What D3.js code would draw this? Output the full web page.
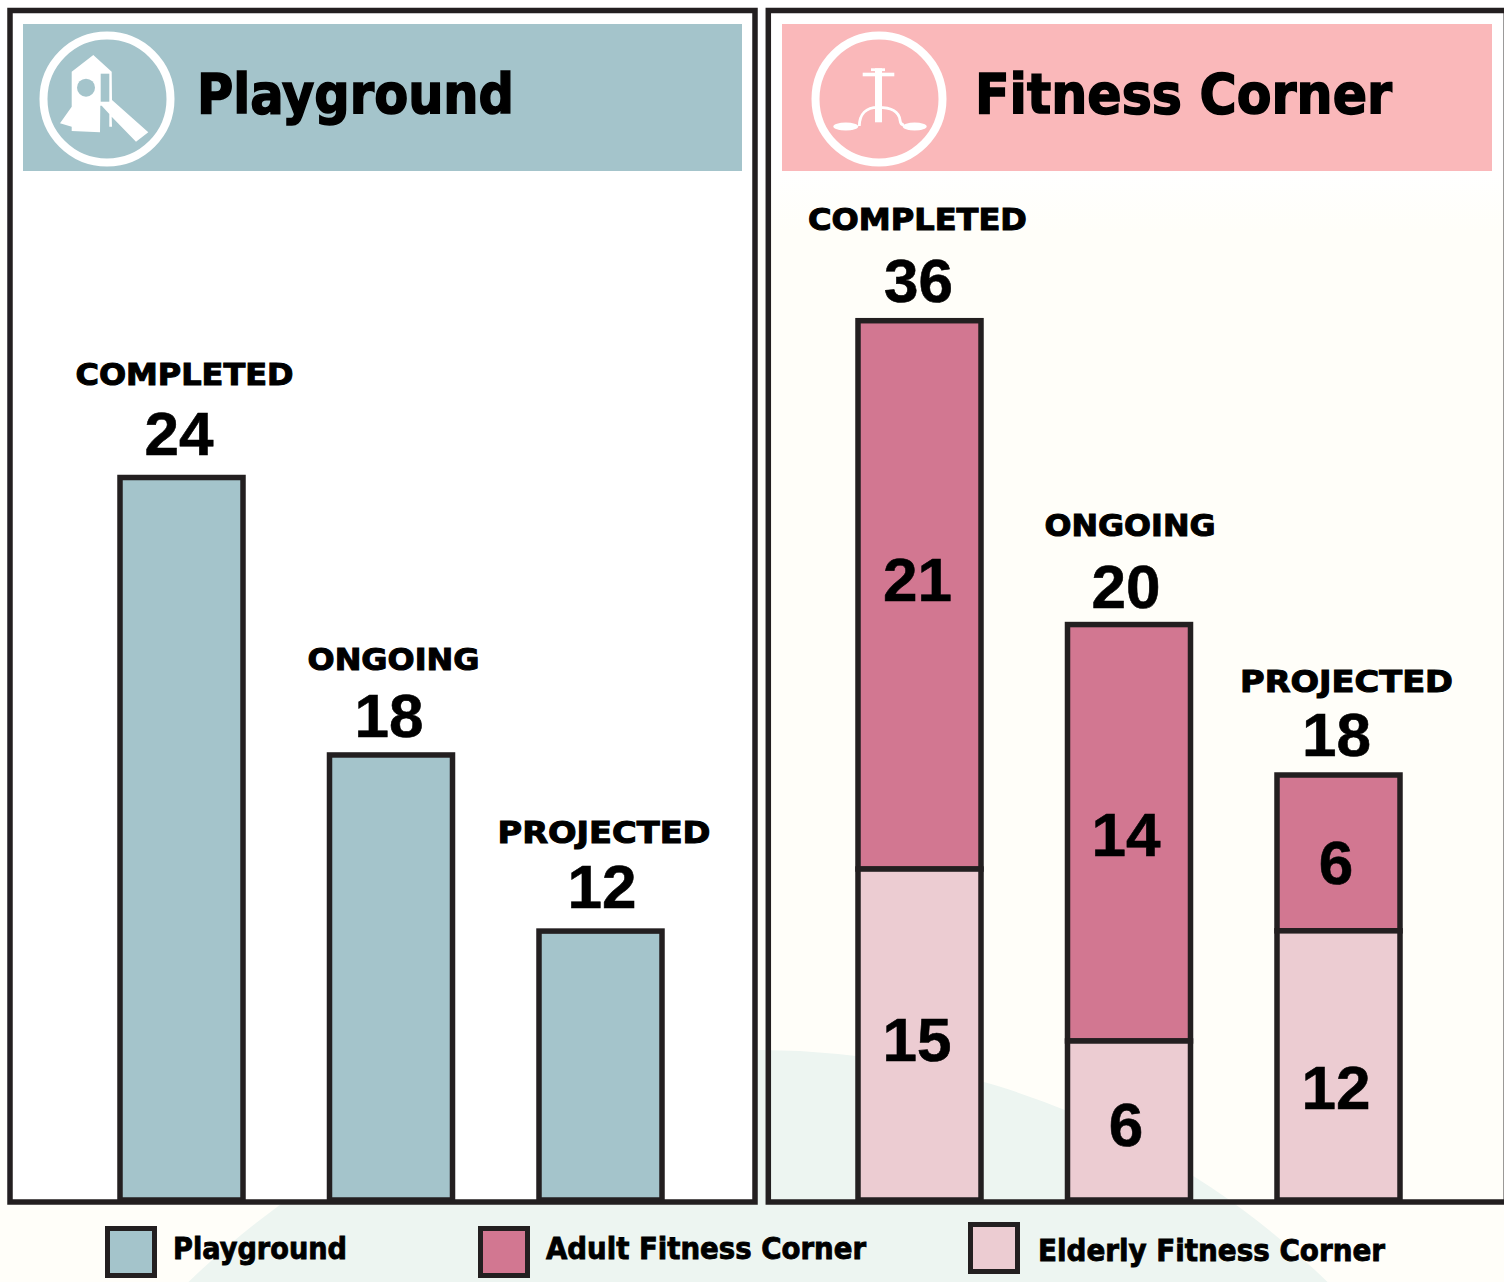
<!DOCTYPE html>
<html>
<head>
<meta charset="utf-8">
<script src="https://cdn.jsdelivr.net/npm/d3@7"></script>
<style>
html,body{margin:0;padding:0;background:#fffef9;overflow:hidden}
svg{display:block}
text{font-family:"Liberation Sans",Arial,sans-serif;font-weight:700;fill:#000}
text.heavy{font-family:"DejaVu Sans",sans-serif}
</style>
</head>
<body>
<svg id="chart" width="1504" height="1282"></svg>
<script>
// ---- data ----
const categories = ["COMPLETED", "ONGOING", "PROJECTED"];
// printed values
const playgroundValues = [24, 18, 12];
const adultValues = [21, 14, 6];
const elderlyValues = [15, 6, 12];
const fitnessTotals = [36, 20, 18];
// bar lengths as drawn in the picture (the source bars are not to scale),
// expressed in units where the 36 bar is 36 long
const playgroundDrawn = [29.58, 18.22, 11.01];
const adultDrawn = [22.45, 17.05, 6.38];
const elderlyDrawn = [13.55, 6.51, 11.02];
const panelTitles = ["Playground", "Fitness Corner"];
const legendNames = ["Playground", "Adult Fitness Corner", "Elderly Fitness Corner"];

// ---- style and layout ----
const INK = "#231f20", TEAL = "#a4c4cb", ROSE = "#d27791", BLUSH = "#ecccd2", SALMON = "#fab8ba";
const barWidth = 123, barStroke = 5.5;
const svg = d3.select("#chart");

const defs = svg.append("defs");
const bgGrad = defs.append("linearGradient").attr("id","bg").attr("x1",0).attr("y1",0).attr("x2",0).attr("y2",1);
bgGrad.append("stop").attr("offset","0.13").attr("stop-color","#ffffff");
bgGrad.append("stop").attr("offset","0.18").attr("stop-color","#fffef9");
svg.append("rect").attr("width",1504).attr("height",1282).attr("fill","url(#bg)");
svg.append("circle").attr("cx",758).attr("cy",1865).attr("r",815).attr("fill","#edf5f1");

const y = d3.scaleLinear().domain([0,36]).range([1200,320.7]);
const xLeft = d3.scalePoint().domain(categories).range([181.5,600.5]);
const xRight = d3.scalePoint().domain(categories).range([919.5,1338.5]);

svg.append("rect").attr("x",10).attr("y",10.5).attr("width",745).attr("height",1191.5).attr("fill","#fff");

function bar(g, x, w, top, bottom, fill){
  g.append("rect").attr("x",x-w/2).attr("y",top).attr("width",w).attr("height",bottom-top)
    .attr("fill",fill).attr("stroke",INK).attr("stroke-width",barStroke);
}
function txt(g, s, x, yy, size, width, stroke, heavy){
  const t = g.append("text").attr("x",x).attr("y",yy).attr("font-size",size).attr("text-anchor","middle")
    .attr("stroke","#000").attr("stroke-width",stroke).text(s);
  if(heavy) t.attr("class","heavy");
  if(width) t.attr("textLength",width).attr("lengthAdjust","spacingAndGlyphs");
  return t;
}

const bars = svg.append("g");
const labels = svg.append("g");

// small hand placements of the labels relative to their bars
const catWidthsL = [218,172,213], catWidthsR = [219,171,213];
const leftCatDx = [3,2.5,3.5], leftCatDy = [-92.5,-85,-88];
const leftNumDx = [-2.5,-2,1.5], leftNumDy = [-23,-18,-23];
const rightCatDx = [-2,1,8], rightCatDy = [-91,-89,-83.5];
const rightNumDx = [-1,-3,-2], rightNumDy = [-19,-17,-19];
const adultDx = [-2,-3,-2.5], adultDy = [6,23,31];
const elderlyDx = [-2.5,-3,-2.5], elderlyDy = [26,26,44];

categories.forEach((c,i)=>{
  const cx = xLeft(c), top = y(playgroundDrawn[i]);
  bar(bars, cx, barWidth, top, y(0), TEAL);
  txt(labels, c, cx+leftCatDx[i], top+leftCatDy[i], 31, catWidthsL[i], 1.1, true);
  txt(labels, playgroundValues[i], cx+leftNumDx[i], top+leftNumDy[i], 62, null, 0.6);
});

categories.forEach((c,i)=>{
  const cx = xRight(c);
  const mid = y(elderlyDrawn[i]), top = y(elderlyDrawn[i]+adultDrawn[i]);
  bar(bars, cx, barWidth, top, mid, ROSE);
  bar(bars, cx, barWidth, mid, y(0), BLUSH);
  txt(labels, c, cx+rightCatDx[i], top+rightCatDy[i], 31, catWidthsR[i], 1.1, true);
  txt(labels, fitnessTotals[i], cx+rightNumDx[i], top+rightNumDy[i], 62, null, 0.6);
  txt(labels, adultValues[i], cx+adultDx[i], (top+mid)/2+adultDy[i], 62, null, 0.6);
  txt(labels, elderlyValues[i], cx+elderlyDx[i], (mid+y(0))/2+elderlyDy[i], 62, null, 0.6);
});

// panel frames
svg.append("rect").attr("x",10).attr("y",10.5).attr("width",745).attr("height",1191.5)
  .attr("fill","none").attr("stroke",INK).attr("stroke-width",5.5);
svg.append("rect").attr("x",768.3).attr("y",10.5).attr("width",738).attr("height",1191.5)
  .attr("fill","none").attr("stroke",INK).attr("stroke-width",5.5);

// headers
svg.append("rect").attr("x",23).attr("y",24).attr("width",719).attr("height",147).attr("fill",TEAL);
svg.append("rect").attr("x",782).attr("y",24).attr("width",710).attr("height",147).attr("fill",SALMON);
[107,879].forEach(cx=>{
  svg.append("circle").attr("cx",cx).attr("cy",99).attr("r",63.5).attr("fill","none").attr("stroke","#fff").attr("stroke-width",8);
});
txt(svg, panelTitles[0], 355.5, 113, 56, 317, 1.6, true);
txt(svg, panelTitles[1], 1183.5, 113, 56, 417, 1.6, true);

// playground icon
const icon1 = svg.append("g");
icon1.append("path").attr("fill","#fff").attr("d",
  "M71.7 71.7 L93.3 55 L111.7 71.7 L112 100 L148.3 132.3 L136 141.7 L111.7 116.7 L112 126.7 L109.3 126.7 L109.3 114 L101.7 105.7 L100.3 105.7 L100 132.3 L71.7 131 L71.7 126.7 L60 123.3 L71.7 106.7 Z");
icon1.append("rect").attr("x",100.7).attr("y",73.7).attr("width",8.6).attr("height",28).attr("fill",TEAL);
icon1.append("circle").attr("cx",86).attr("cy",87.7).attr("r",9).attr("fill",TEAL);

// fitness icon
const icon2 = svg.append("g");
icon2.append("rect").attr("x",875).attr("y",68.3).attr("width",7).attr("height",54).attr("fill","#fff");
icon2.append("rect").attr("x",862.7).attr("y",72.7).attr("width",31.6).attr("height",3.6).attr("fill","#fff");
icon2.append("rect").attr("x",871).attr("y",68.3).attr("width",14).attr("height",2.8).attr("fill","#fff");
icon2.append("path").attr("fill","none").attr("stroke","#fff").attr("stroke-width",2.8)
  .attr("d","M859.3 126 C859.5 114 866 107.3 878 107.3 C892 107.3 899 112 900 120 C900.5 124 902 125 904 125");
icon2.append("ellipse").attr("cx",845.8).attr("cy",126.5).attr("rx",12.5).attr("ry",4).attr("fill","#fff");
icon2.append("ellipse").attr("cx",914.7).attr("cy",126.5).attr("rx",12).attr("ry",4).attr("fill","#fff");

// legend
const swatchFills = [TEAL, ROSE, BLUSH];
const swatchX = [107.5,480.5,970.5], swatchY = [1228.5,1228.5,1224.5];
const legendTextCentre = [260,706,1211.5], legendBase = [1259,1259,1261], legendWidths = [174,320,347];
legendNames.forEach((n,i)=>{
  svg.append("rect").attr("x",swatchX[i]).attr("y",swatchY[i]).attr("width",47).attr("height",47)
    .attr("fill",swatchFills[i]).attr("stroke",INK).attr("stroke-width",5);
  txt(svg, n, legendTextCentre[i], legendBase[i], 30, legendWidths[i], 0.9, true);
});
</script>
</body>
</html>
